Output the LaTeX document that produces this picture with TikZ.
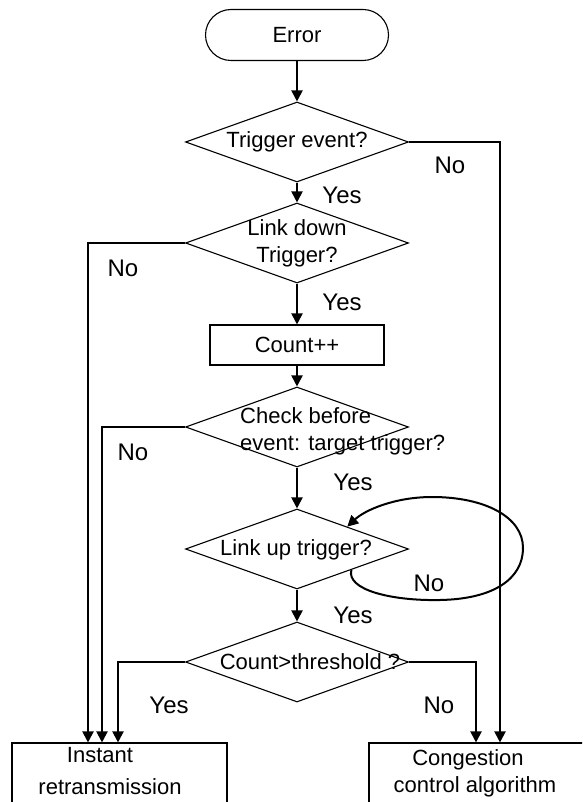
\documentclass[tikz,border=0pt]{standalone}
\usepackage{fontspec}
\setmainfont{Liberation Sans}
\usetikzlibrary{shapes.geometric,arrows.meta}
\begin{document}
\begin{tikzpicture}[x=1pt,y=-1pt,font=\fontsize{22}{27}\selectfont,
term/.style={draw,line width=1.1pt,rounded corners=25.5pt,minimum width=183pt,minimum height=51pt,inner sep=0pt},
decision/.style={diamond,draw,line width=1.1pt,minimum width=223pt,minimum height=80pt,inner sep=0pt},
process/.style={draw,line width=1.1pt,inner sep=0pt},
txt/.style={inner sep=0pt,align=center},
lbl/.style={inner sep=0pt,font=\fontsize{24}{28}\selectfont},
flow/.style={line width=2pt,-{Triangle[length=11pt,width=11pt]}}]
\useasboundingbox (0,0) rectangle (582,802);
\clip (0,0) rectangle (582,802);
\node[term] (err) at (297,35) {Error};
\node[decision] (d1) at (297,142) {};
\node[txt] (t1) at (d1) {Trigger event?};
\node[decision] (d2) at (297,243) {};
\node[txt] (t2) at (d2) {Link down\\Trigger?};
\node[process,minimum width=174pt,minimum height=40pt] (cnt) at (297,345) {Count++};
\node[decision] (d3) at (297,427) {};
\node[txt,anchor=west,align=left] (t3) at (240,431.5) {Check before\\event: target trigger?};
\node[decision] (d4) at (297,549) {};
\node[txt] (t4) at (296,550) {Link up trigger?};
\node[decision] (d5) at (297,662) {};
\node[txt] (t5) at (310,662) {Count>threshold ?};
\node[process,minimum width=215pt,minimum height=87pt] (inst) at (119.5,786.5) {};
\node[txt] (inst1) at (100,755) {Instant};
\node[txt] (inst2) at (110,787) {retransmission};
\node[process,minimum width=231pt,minimum height=87pt] (cong) at (484.5,786.5) {};
\node[txt] (cong1) at (468,760) {Congestion};
\node[txt] (cong2) at (475,787) {control algorithm};
\draw[flow] (err) -- (d1);
\draw[flow] (d1) -- (d2);
\draw[flow] (d2) -- (cnt);
\draw[flow] (cnt) -- (d3);
\draw[flow] (d3) -- (d4);
\draw[flow] (d4) -- (d5);
\draw[flow] (d1.east) -| ([xshift=15.5pt]cong.north);
\draw[flow] (d2.west) -| ([xshift=-31.5pt]inst.north);
\draw[flow] (d3.west) -| ([xshift=-17.5pt]inst.north);
\draw[flow] (d5.west) -| ([xshift=-1.5pt]inst.north);
\draw[flow] (d5.east) -| ([xshift=-8.5pt]cong.north);
\draw[flow] (d4.-21) .. controls (346,590) and (392,601) .. (440,600) .. controls (495,599) and (523,578) .. (523,548) .. controls (523,517) and (485,497) .. (432,497) .. controls (395,497) and (365,510) .. (d4.24);
\node[lbl] (y1) at (342,195) {Yes};
\node[lbl] (n1) at (450,165) {No};
\node[lbl] (y2) at (342,302) {Yes};
\node[lbl] (n2) at (123,268) {No};
\node[lbl] (y3) at (353,482) {Yes};
\node[lbl] (n3) at (133,452) {No};
\node[lbl] (y4) at (353,615) {Yes};
\node[lbl] (n4) at (429,583) {No};
\node[lbl] (y5) at (169,705) {Yes};
\node[lbl] (n5) at (439,705) {No};
\end{tikzpicture}
\end{document}
